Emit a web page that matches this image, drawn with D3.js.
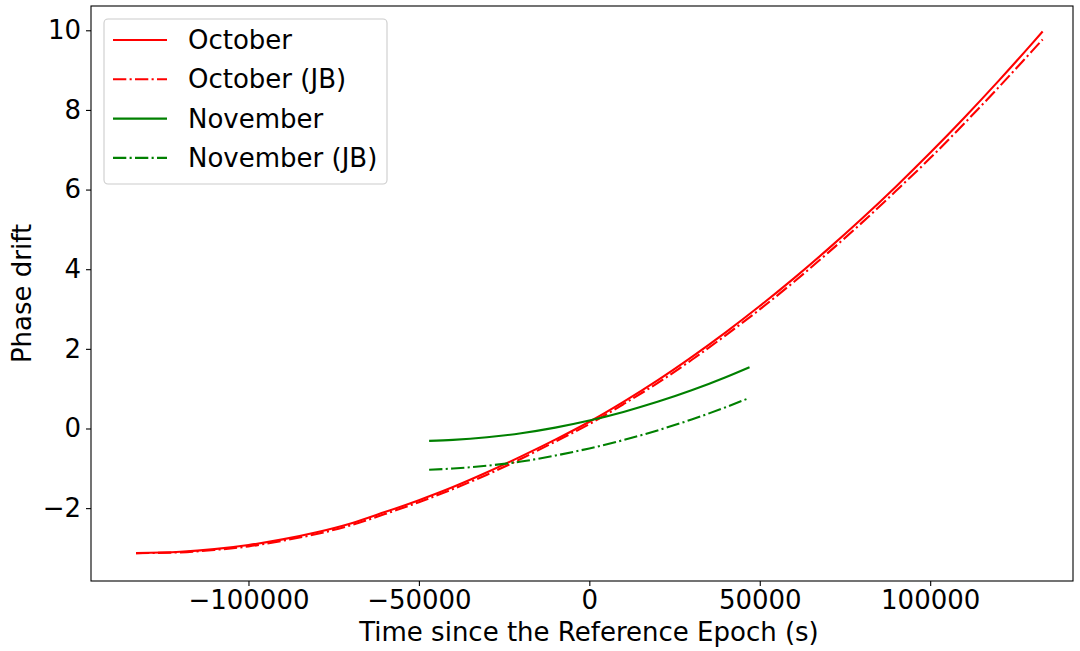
<!DOCTYPE html>
<html>
<head>
<meta charset="utf-8">
<script src="https://cdn.jsdelivr.net/npm/d3@7"></script>
<style>
  html, body { margin: 0; padding: 0; background: #fff; }
  svg { display: block; font-family: "DejaVu Sans", sans-serif; }
</style>
</head>
<body>
<svg id="chart" width="1080" height="651"></svg>
<script>
// ---------------- data ----------------
const octTime = [-133000,-120000,-110000,-100000,-90000,-80000,-70000,-60000,-50000,-40000,-30000,-20000,-10000,0,10000,20000,30000,40000,50000,60000,70000,80000,90000,100000,110000,120000,130000,133000];
const octPhase = [-3.129,-3.097,-3.030,-2.926,-2.785,-2.607,-2.385,-2.10,-1.80,-1.47,-1.10,-0.70,-0.28,0.17,0.67,1.21,1.794,2.416,3.075,3.771,4.504,5.273,6.080,6.924,7.805,8.723,9.677,9.971];
const octPhaseJB = [-3.13,-3.11,-3.05,-2.96,-2.82,-2.65,-2.43,-2.15,-1.85,-1.52,-1.16,-0.76,-0.33,0.11,0.61,1.14,1.72,2.34,2.99,3.68,4.41,5.17,5.97,6.79,7.66,8.56,9.49,9.77];
const novTime = [-47000,-40000,-30000,-20000,-10000,0,10000,20000,30000,40000,47000];
const novPhase = [-0.310,-0.286,-0.221,-0.119,0.022,0.200,0.416,0.669,0.959,1.288,1.540];
const novPhaseJB = [-1.035,-1.005,-0.935,-0.830,-0.680,-0.500,-0.290,-0.048,0.226,0.534,0.769];
const xTicks = [-100000,-50000,0,50000,100000];
const yTicks = [-2,0,2,4,6,8,10];
const seriesNames = ["October","October (JB)","November","November (JB)"];
const xLabel = "Time since the Reference Epoch (s)";
const yLabel = "Phase drift";

// ---------------- layout ----------------
const pL = 91, pR = 1073, pT = 6, pB = 581;
const FS = "26px";
const svg = d3.select("#chart");
const x = d3.scaleLinear().domain([-146200, 141900]).range([pL, pR]);
const y = d3.scaleLinear().domain([-3.83, 10.61]).range([pB, pT]);

const series = [
  {name: seriesNames[0], t: octTime, v: octPhase, color: "#ff0000", dash: null},
  {name: seriesNames[1], t: octTime, v: octPhaseJB, color: "#ff0000", dash: "13.3,3.3,2.1,3.3"},
  {name: seriesNames[2], t: novTime, v: novPhase, color: "#008000", dash: null},
  {name: seriesNames[3], t: novTime, v: novPhaseJB, color: "#008000", dash: "13.3,3.3,2.1,3.3"}
];

const line = d3.line().x(d => x(d[0])).y(d => y(d[1])).curve(d3.curveMonotoneX);

const plot = svg.append("g");
series.forEach(s => {
  plot.append("path")
    .datum(s.t.map((t, i) => [t, s.v[i]]))
    .attr("fill", "none")
    .attr("stroke", s.color)
    .attr("stroke-width", 2.1)
    .attr("stroke-dasharray", s.dash)
    .attr("d", line);
});

// axes
const fmt = d => d < 0 ? "\u2212" + Math.abs(d) : String(d);
const xAxis = svg.append("g").attr("transform", `translate(0,${pB})`)
  .call(d3.axisBottom(x).tickValues(xTicks).tickFormat(fmt).tickSize(5).tickPadding(5));
const yAxis = svg.append("g").attr("transform", `translate(${pL},0)`)
  .call(d3.axisLeft(y).tickValues(yTicks).tickFormat(fmt).tickSize(5).tickPadding(5));
[xAxis, yAxis].forEach(a => {
  a.select(".domain").remove();
  a.selectAll(".tick line").attr("stroke", "#000").attr("stroke-width", 1.1);
  a.selectAll(".tick text").attr("fill", "#000").style("font-size", FS).style("font-family", "DejaVu Sans");
});

// frame
svg.append("rect").attr("x", pL).attr("y", pT).attr("width", pR - pL).attr("height", pB - pT)
  .attr("fill", "none").attr("stroke", "#000").attr("stroke-width", 1.1);

// axis labels
svg.append("text").attr("x", 589).attr("y", 641).attr("text-anchor", "middle")
  .style("font-size", FS).attr("fill", "#000").text(xLabel);
svg.append("text").attr("transform", `translate(31,${(pT + pB) / 2}) rotate(-90)`)
  .attr("text-anchor", "middle").style("font-size", FS).attr("fill", "#000").text(yLabel);

// legend
const lg = svg.append("g");
lg.append("rect").attr("x", 104).attr("y", 19).attr("width", 283).attr("height", 165)
  .attr("rx", 4).attr("fill", "#fff").attr("fill-opacity", 0.8)
  .attr("stroke", "#cccccc").attr("stroke-width", 1.1);
series.forEach((s, i) => {
  const yy = 40 + i * 39.3;
  lg.append("line").attr("x1", 113).attr("x2", 167).attr("y1", yy).attr("y2", yy)
    .attr("stroke", s.color).attr("stroke-width", 2.1).attr("stroke-dasharray", s.dash);
  lg.append("text").attr("x", 188).attr("y", yy).attr("dy", "0.35em")
    .style("font-size", FS).attr("fill", "#000").text(s.name);
});
</script>
</body>
</html>
